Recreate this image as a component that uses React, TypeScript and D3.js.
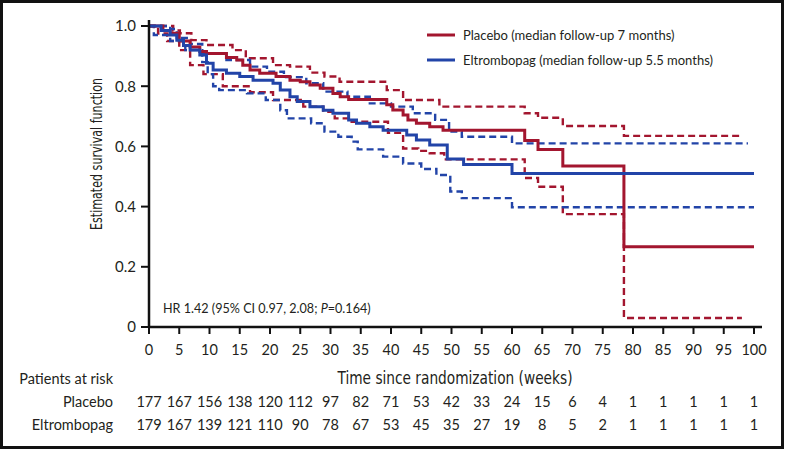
import React from "react";
import * as d3 from "d3";

const W = 785;
const H = 450;

const xTicks = [0, 5, 10, 15, 20, 25, 30, 35, 40, 45, 50, 55, 60, 65, 70, 75, 80, 85, 90, 95, 100];
const yTicks = [0, 0.2, 0.4, 0.6, 0.8, 1.0];
const yTickLabels = ["0", "0.2", "0.4", "0.6", "0.8", "1.0"];

const placeboAtRisk = [177, 167, 156, 138, 120, 112, 97, 82, 71, 53, 42, 33, 24, 15, 6, 4, 1, 1, 1, 1, 1];
const eltrombopagAtRisk = [179, 167, 139, 121, 110, 90, 78, 67, 53, 45, 35, 27, 19, 8, 5, 2, 1, 1, 1, 1, 1];

const placeboEst: [number, number][] = [
  [0, 1.0], [2.3, 0.985], [3.5, 0.976], [5, 0.95], [6.8, 0.93], [8.4, 0.915], [9.5, 0.909],
  [12.8, 0.895], [14.5, 0.887], [15.5, 0.87], [16.7, 0.854], [18.3, 0.843], [21, 0.832],
  [23.3, 0.82], [25, 0.815], [26.6, 0.804], [28.3, 0.793], [30.4, 0.776], [31.6, 0.765],
  [33, 0.756], [39.3, 0.738], [40.3, 0.721], [42, 0.704], [42.8, 0.688], [44.2, 0.677],
  [46.4, 0.665], [48.6, 0.654], [62.1, 0.62], [64.3, 0.59], [68.4, 0.535], [78.5, 0.267], [100, 0.267],
];
const placeboUpper: [number, number][] = [
  [0, 1.0], [4, 0.985], [5.1, 0.976], [7, 0.953], [9.5, 0.937], [13.8, 0.92], [16, 0.893],
  [20.5, 0.87], [23.3, 0.865], [26.6, 0.845], [29, 0.832], [31.5, 0.815], [39.3, 0.787],
  [42, 0.754], [48, 0.732], [62.1, 0.71], [64.3, 0.695], [68.4, 0.668], [78.5, 0.635], [98, 0.635],
];
const placeboLower: [number, number][] = [
  [0, 1.0], [1.5, 0.975], [3, 0.95], [5, 0.92], [6.8, 0.87], [9, 0.84], [12.2, 0.8],
  [16.7, 0.78], [20.5, 0.754], [25.5, 0.732], [28.8, 0.715], [30.7, 0.693], [33.5, 0.682],
  [39.5, 0.645], [42, 0.593], [44.5, 0.585], [46.4, 0.577], [48.8, 0.557], [62.1, 0.495],
  [64.3, 0.466], [68.4, 0.375], [78.5, 0.03], [98, 0.03],
];
const eltEst: [number, number][] = [
  [0, 1.0], [2, 0.985], [3.5, 0.97], [4.6, 0.953], [5.7, 0.935], [6.8, 0.92], [8.4, 0.904],
  [9.5, 0.876], [10.6, 0.854], [12.8, 0.843], [15, 0.832], [17.2, 0.82], [20.5, 0.81],
  [21.7, 0.787], [23.3, 0.765], [24.5, 0.749], [26.6, 0.732], [28.8, 0.72], [30.4, 0.71],
  [33, 0.688], [34.3, 0.677], [36.5, 0.665], [38.7, 0.654], [42.6, 0.638], [44.2, 0.621],
  [46.4, 0.605], [49.3, 0.558], [52, 0.54], [60, 0.51], [100, 0.51],
];
const eltUpper: [number, number][] = [
  [0, 1.0], [3.5, 0.99], [4.6, 0.96], [6.8, 0.94], [8.8, 0.91], [12.8, 0.887], [16.7, 0.865],
  [19.5, 0.848], [22.3, 0.83], [26, 0.81], [28.8, 0.782], [32.8, 0.765], [36.5, 0.743],
  [40, 0.732], [43.6, 0.71], [47.3, 0.688], [49.6, 0.649], [51.7, 0.632], [60, 0.61], [99, 0.61],
];
const eltLower: [number, number][] = [
  [0, 1.0], [0.8, 0.97], [3.5, 0.95], [6, 0.92], [8.8, 0.88], [9.7, 0.84], [10.6, 0.8],
  [11.6, 0.787], [16.2, 0.776], [19.3, 0.754], [21.7, 0.72], [22.8, 0.693], [26.8, 0.677],
  [29, 0.649], [31.3, 0.632], [33.5, 0.616], [34.5, 0.59], [38.7, 0.566], [42, 0.543],
  [45, 0.525], [47.5, 0.505], [49.8, 0.45], [51.7, 0.428], [60, 0.398], [100, 0.398],
];

const RED = "#a3162f";
const BLUE = "#2244a8";
const TXT = "#231f20";
const TICKFONT = "Lato, 'Open Sans', sans-serif";
const NARROW = "'Liberation Sans Narrow', 'DejaVu Sans Condensed', sans-serif";

export default function App() {
  const x = d3.scaleLinear().domain([0, 100]).range([149, 754]);
  const y = d3.scaleLinear().domain([0, 1]).range([327, 26]);
  const line = d3
    .line<[number, number]>()
    .x((d) => x(d[0]))
    .y((d) => y(d[1]))
    .curve(d3.curveStepAfter);

  const series = [
    { data: placeboUpper, color: RED, dash: "7,4", w: 2.4 },
    { data: placeboLower, color: RED, dash: "7,4", w: 2.4 },
    { data: eltUpper, color: BLUE, dash: "7,4", w: 2.4 },
    { data: eltLower, color: BLUE, dash: "7,4", w: 2.4 },
    { data: placeboEst, color: RED, dash: null, w: 3 },
    { data: eltEst, color: BLUE, dash: null, w: 3 },
  ];

  return (
    <svg
      width={W}
      height={H}
      style={{ position: "absolute", left: 0, top: 0, background: "#fff" }}
    >
      <rect x={1.5} y={1.5} width={781} height={446} fill="#fff" stroke="#111" strokeWidth={3} />

      {series.map((s, i) => (
        <path
          key={i}
          d={line(s.data) || ""}
          fill="none"
          stroke={s.color}
          strokeWidth={s.w}
          strokeDasharray={s.dash || undefined}
        />
      ))}

      {/* axes */}
      <line x1={149} x2={149} y1={20} y2={328} stroke="#111" strokeWidth={2.5} />
      <line x1={148} x2={762} y1={327} y2={327} stroke="#111" strokeWidth={2.5} />
      {yTicks.map((t, i) => (
        <g key={"y" + i}>
          <line x1={141} x2={149} y1={y(t)} y2={y(t)} stroke="#111" strokeWidth={2} />
          <text
            x={136}
            y={y(t)}
            dy="0.36em"
            textAnchor="end"
            fontFamily={TICKFONT}
            fontSize={15}
            fill={TXT}
          >
            {yTickLabels[i]}
          </text>
        </g>
      ))}
      {xTicks.map((t) => (
        <g key={"x" + t}>
          <line x1={x(t)} x2={x(t)} y1={327} y2={334} stroke="#111" strokeWidth={2} />
          <text x={x(t)} y={355} textAnchor="middle" fontFamily={TICKFONT} fontSize={14.5} fill={TXT}>
            {t}
          </text>
        </g>
      ))}

      <text
        transform={`translate(102,154) rotate(-90)`}
        textAnchor="middle"
        fontFamily={NARROW}
        fontSize={15}
        textLength={152}
        lengthAdjust="spacingAndGlyphs"
        fill={TXT}
      >
        Estimated survival function
      </text>
      <text
        x={455}
        y={384}
        textAnchor="middle"
        fontFamily={NARROW}
        fontSize={17}
        textLength={235}
        lengthAdjust="spacingAndGlyphs"
        fill={TXT}
      >
        Time since randomization (weeks)
      </text>

      {/* legend */}
      <line x1={427} x2={455} y1={35} y2={35} stroke={RED} strokeWidth={3} />
      <text x={463} y={39.5} fontFamily={TICKFONT} fontSize={13} fill={TXT}>
        Placebo (median follow-up 7 months)
      </text>
      <line x1={427} x2={455} y1={60} y2={60} stroke={BLUE} strokeWidth={3} />
      <text x={463} y={64.5} fontFamily={TICKFONT} fontSize={13} fill={TXT}>
        Eltrombopag (median follow-up 5.5 months)
      </text>

      <text x={163} y={313} fontFamily={TICKFONT} fontSize={12.6} fill={TXT}>
        HR 1.42 (95% CI 0.97, 2.08; <tspan fontStyle="italic">P</tspan>=0.164)
      </text>

      {/* at risk table */}
      <text x={113} y={384} textAnchor="end" fontFamily={TICKFONT} fontSize={14.5} fill={TXT}>
        Patients at risk
      </text>
      <text x={113} y={407} textAnchor="end" fontFamily={TICKFONT} fontSize={14.5} fill={TXT}>
        Placebo
      </text>
      <text x={113} y={430} textAnchor="end" fontFamily={TICKFONT} fontSize={14.5} fill={TXT}>
        Eltrombopag
      </text>
      {placeboAtRisk.map((v, i) => (
        <text key={"p" + i} x={x(xTicks[i])} y={407} textAnchor="middle" fontFamily={TICKFONT} fontSize={14.5} fill={TXT}>
          {v}
        </text>
      ))}
      {eltrombopagAtRisk.map((v, i) => (
        <text key={"e" + i} x={x(xTicks[i])} y={430} textAnchor="middle" fontFamily={TICKFONT} fontSize={14.5} fill={TXT}>
          {v}
        </text>
      ))}
    </svg>
  );
}
